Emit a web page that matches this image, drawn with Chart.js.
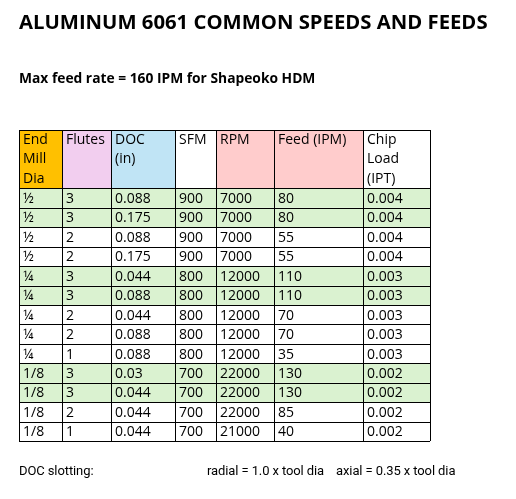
<!DOCTYPE html>
<html>
<head>
<meta charset="utf-8">
<script src="https://cdn.jsdelivr.net/npm/chart.js@4"></script>
<style>
  body { margin: 0; background: #fff; font-family: 'Open Sans', sans-serif; }
  #wrap { position: relative; width: 516px; height: 499px; }
  #table { position: absolute; left: 0; top: 0; }
  .txt { position: absolute; color: #000; white-space: nowrap; }
  #title { left: 19px; top: 7px; font-size: 20.3px; font-weight: bold; }
  #sub { left: 19px; top: 68px; font-size: 13.8px; font-weight: bold; }
  .foot { top: 463px; font-size: 13px; font-family: Roboto, sans-serif; letter-spacing: -0.1px; }
</style>
</head>
<body>
<div id="wrap">
  <canvas id="table" width="516" height="499"></canvas>
  <div class="txt" id="title">ALUMINUM 6061 COMMON SPEEDS AND FEEDS</div>
  <div class="txt" id="sub">Max feed rate = 160 IPM for Shapeoko HDM</div>
  <div class="txt foot" style="left:19px">DOC slotting:</div>
  <div class="txt foot" style="left:207px">radial = 1.0 x tool dia</div>
  <div class="txt foot" style="left:336px">axial = 0.35 x tool dia</div>
</div>
<script>
'use strict';

// Table data
const headers   = [['End', 'Mill', 'Dia'], ['Flutes'], ['DOC', '(in)'], ['SFM'], ['RPM'], ['Feed (IPM)'], ['Chip', 'Load', '(IPT)']];
const endMill   = ['½', '½', '½', '½', '¼', '¼', '¼', '¼', '¼', '1/8', '1/8', '1/8', '1/8'];
const flutes    = ['3', '3', '2', '2', '3', '3', '2', '2', '1', '3', '3', '2', '1'];
const doc       = ['0.088', '0.175', '0.088', '0.175', '0.044', '0.088', '0.044', '0.088', '0.088', '0.03', '0.044', '0.044', '0.044'];
const sfm       = ['900', '900', '900', '900', '800', '800', '800', '800', '800', '700', '700', '700', '700'];
const rpm       = ['7000', '7000', '7000', '7000', '12000', '12000', '12000', '12000', '12000', '22000', '22000', '22000', '21000'];
const feed      = ['80', '80', '55', '55', '110', '110', '70', '70', '35', '130', '130', '85', '40'];
const chipLoad  = ['0.004', '0.004', '0.004', '0.004', '0.003', '0.003', '0.003', '0.003', '0.003', '0.002', '0.002', '0.002', '0.002'];
const greenRows = [true, true, false, false, true, true, false, false, false, true, true, false, false];

// Layout / style
const colWidths   = [43, 49, 64, 41, 58, 89, 67];
const headerRows  = 3;
const headColors  = ['#ffc000', '#f2ceef', '#c0e4f5', '#ffffff', '#ffcccc', '#ffcccc', '#ffffff'];
const GREEN       = '#daf2d0';

const columns = [endMill, flutes, doc, sfm, rpm, feed, chipLoad];
const colEdges = [0];
colWidths.forEach(w => colEdges.push(colEdges[colEdges.length - 1] + w));
const totalRows = headerRows + endMill.length;

// Cell anchor points so the library places every cell
const cellPoints = [];
columns.forEach((col, c) => col.forEach((v, r) => cellPoints.push({ x: colEdges[c], y: headerRows + r, v })));

const tablePlugin = {
  id: 'tablePlugin',
  afterDatasetsDraw(chart) {
    const { ctx, scales: { x, y } } = chart;
    const px = v => x.getPixelForValue(v);
    const py = v => y.getPixelForValue(v);
    ctx.save();
    ctx.font = '14px "Open Sans", sans-serif';
    ctx.textBaseline = 'middle';

    // header cells
    headers.forEach((lines, c) => {
      ctx.fillStyle = headColors[c];
      ctx.fillRect(px(colEdges[c]), py(0), px(colEdges[c + 1]) - px(colEdges[c]), py(headerRows) - py(0));
      ctx.fillStyle = '#000';
      lines.forEach((t, i) => ctx.fillText(t, px(colEdges[c]) + 4, py(i + 0.5)));
    });

    // body cells
    cellPoints.forEach(p => {
      const c = colEdges.indexOf(p.x);
      const r = p.y - headerRows;
      const x0 = px(colEdges[c]), x1 = px(colEdges[c + 1]);
      if (greenRows[r]) {
        ctx.fillStyle = GREEN;
        ctx.fillRect(x0, py(p.y), x1 - x0, py(p.y + 1) - py(p.y));
      }
      ctx.fillStyle = '#000';
      ctx.fillText(p.v, x0 + 4, py(p.y + 0.5) + 1);
    });

    // grid lines
    ctx.strokeStyle = '#000';
    ctx.lineWidth = 1;
    ctx.beginPath();
    colEdges.forEach(e => {
      const xx = Math.round(px(e)) + 0.5;
      ctx.moveTo(xx, py(0)); ctx.lineTo(xx, py(totalRows));
    });
    for (let r = 0; r <= totalRows; r++) {
      if (r > 0 && r < headerRows) continue;
      const yy = Math.round(py(r)) + 0.5;
      ctx.moveTo(px(0), yy); ctx.lineTo(px(colEdges[colEdges.length - 1]), yy);
    }
    ctx.stroke();
    ctx.restore();
  },
};

new Chart(document.getElementById('table'), {
  type: 'scatter',
  data: { datasets: [{ data: cellPoints, pointRadius: 0, pointHoverRadius: 0 }] },
  options: {
    responsive: false,
    animation: false,
    events: [],
    layout: { padding: { left: 19, right: 86, top: 130, bottom: 58 } },
    plugins: { legend: { display: false }, tooltip: { enabled: false } },
    scales: {
      x: { type: 'linear', display: false, min: 0, max: colEdges[colEdges.length - 1] },
      y: { type: 'linear', display: false, min: 0, max: totalRows, reverse: true },
    },
  },
  plugins: [tablePlugin],
});
</script>
</body>
</html>
